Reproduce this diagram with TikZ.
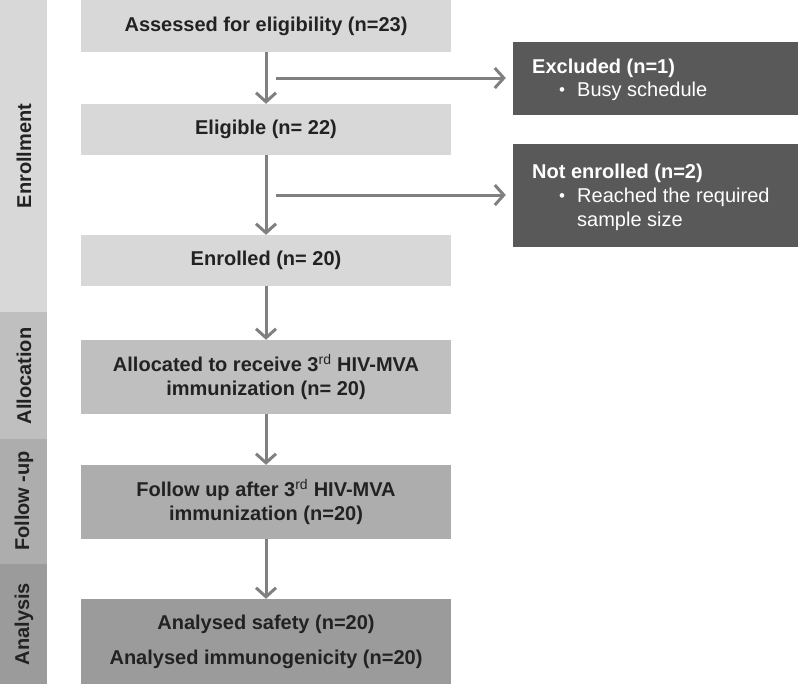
\documentclass[tikz,border=0pt]{standalone}
\usepackage{fontspec}
\setmainfont{Liberation Sans}
\usetikzlibrary{arrows.meta}
\definecolor{gA}{HTML}{D8D8D8}
\definecolor{gB}{HTML}{BFBFBF}
\definecolor{gC}{HTML}{ADADAD}
\definecolor{gD}{HTML}{9B9B9B}
\definecolor{dk}{HTML}{595959}
\definecolor{ar}{HTML}{808080}
\definecolor{tx}{HTML}{222222}
\tikzset{
  mainbox/.style={minimum width=370pt, inner sep=0pt, align=center, text=tx, font=\fontsize{20}{24}\selectfont\bfseries},
  sidebox/.style={fill=dk, minimum width=285pt, inner sep=0pt},
  sidetitle/.style={anchor=base west, inner sep=0pt, text=white, font=\fontsize{20}{24}\selectfont\bfseries},
  sideline/.style={anchor=base west, inner sep=0pt, text=white, font=\fontsize{20}{24}\selectfont},
  sidebullet/.style={anchor=base, inner sep=0pt, text=white, font=\fontsize{17}{24}\selectfont},
  barlabel/.style={rotate=90, text=tx, font=\fontsize{20}{24}\selectfont\bfseries},
  flow/.style={draw=ar, line width=3pt, -{Straight Barb[length=9pt,width=20pt,line width=3pt]}}
}
\begin{document}
\begin{tikzpicture}[x=1pt,y=-1pt]
\useasboundingbox (0,0) rectangle (800,686);
% left phase bar
\fill[gA] (0,0) rectangle (47,312);
\fill[gB] (0,312) rectangle (47,439);
\fill[gC] (0,439) rectangle (47,564);
\fill[gD] (0,564) rectangle (47,684);
\node[barlabel] (lenr) at (24,156) {Enrollment};
\node[barlabel] (lall) at (24,376) {Allocation};
\node[barlabel] (lfol) at (24,501) {Follow -up};
\node[barlabel] (lana) at (24,624) {Analysis};
% main boxes
\node[mainbox, fill=gA, minimum height=52pt] (assess) at (266,26) {Assessed for eligibility (n=23)};
\node[mainbox, fill=gA, minimum height=51pt] (elig) at (266,129.5) {Eligible (n= 22)};
\node[mainbox, fill=gA, minimum height=51pt] (enrol) at (266,260.5) {Enrolled (n= 20)};
\node[mainbox, fill=gB, minimum height=74pt] (alloc) at (266,377) {Allocated to receive 3\textsuperscript{\mdseries rd} HIV-MVA\\immunization (n= 20)};
\node[mainbox, fill=gC, minimum height=74pt] (follow) at (266,502) {Follow up after 3\textsuperscript{\mdseries rd} HIV-MVA\\immunization (n=20)};
\node[mainbox, fill=gD, minimum height=85pt, font=\fontsize{20}{35}\selectfont\bfseries] (anal) at (266,641.5) {Analysed safety (n=20)\\Analysed immunogenicity (n=20)};
% side boxes
\node[sidebox, minimum height=73pt] (excl) at (655.5,78.5) {};
\node[sidetitle] (excl1) at (532,73) {Excluded (n=1)};
\node[sidebullet] (exclb) at (562,95) {\textbullet};
\node[sideline] (excl2) at (577,96) {Busy schedule};
\node[sidebox, minimum height=103pt] (noten) at (655.5,195) {};
\node[sidetitle] (noten1) at (532,178) {Not enrolled (n=2)};
\node[sidebullet] (notenb) at (562,201) {\textbullet};
\node[sideline] (noten2) at (577,202) {Reached the required};
\node[sideline] (noten3) at (577,226) {sample size};
% connectors
\coordinate (b1) at (276,78);
\coordinate (b2) at (276,195);
\draw[flow] (assess.south) -- (elig.north);
\draw[flow] (elig.south) -- (enrol.north);
\draw[flow] (enrol.south) -- (alloc.north);
\draw[flow] (alloc.south) -- (follow.north);
\draw[flow] (follow.south) -- (anal.north);
\draw[flow, shorten >=7pt] (b1) -- (b1 -| excl.west);
\draw[flow, shorten >=7pt] (b2) -- (b2 -| noten.west);
\end{tikzpicture}
\end{document}
